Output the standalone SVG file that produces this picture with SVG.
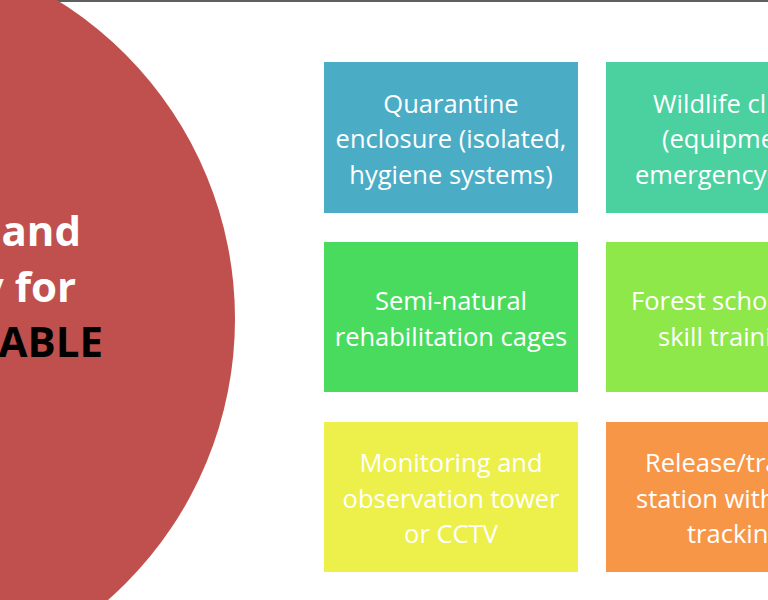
<svg xmlns="http://www.w3.org/2000/svg" width="768" height="600" viewBox="0 0 768 600">
<style>
.box{stroke:none}
.bt{font-family:"Open Sans","Liberation Sans",sans-serif;font-size:25.5px;fill:#ffffff;text-anchor:middle}
.bl{font-family:"Open Sans","Liberation Sans",sans-serif;font-size:25.5px;fill:#ffffff;text-anchor:start}
.ct{font-family:"Open Sans","Liberation Sans",sans-serif;font-size:42px;font-weight:bold;text-anchor:end}
</style>
<rect x="0" y="0" width="768" height="600" fill="#ffffff"/>
<line x1="0" y1="1" x2="768" y2="1" stroke="#2a2a2a" stroke-width="1.5"/>
<g id="center">
<circle cx="-139.5" cy="319" r="374.5" fill="#C0504D"/>
<text class="ct" x="81" y="246" fill="#ffffff">and</text>
<text class="ct" x="76" y="302" fill="#ffffff">y for</text>
<text class="ct" x="103" y="357" fill="#000000">ABLE</text>
</g>
<g id="connectors"></g>
<g id="n1">
<rect class="box" x="324" y="62" width="254" height="151" fill="#4BACC6"/>
<text class="bt" x="451" y="112.5">Quarantine</text>
<text class="bt" x="451" y="148">enclosure (isolated,</text>
<text class="bt" x="451" y="183.5">hygiene systems)</text>
</g>
<g id="n2">
<rect class="box" x="606" y="62" width="254" height="151" fill="#4BD0A0"/>
<text class="bl" x="653" y="112.5">Wildlife cl</text>
<text class="bl" x="662" y="148">(equipme</text>
<text class="bl" x="635" y="183.5">emergency</text>
</g>
<g id="n3">
<rect class="box" x="324" y="242" width="254" height="150" fill="#49DB5E"/>
<text class="bt" x="451" y="310">Semi-natural</text>
<text class="bt" x="451" y="345.5">rehabilitation cages</text>
</g>
<g id="n4">
<rect class="box" x="606" y="242" width="254" height="150" fill="#8EE84A"/>
<text class="bl" x="631" y="310">Forest schoo</text>
<text class="bl" x="658" y="345.5">skill traini</text>
</g>
<g id="n5">
<rect class="box" x="324" y="422" width="254" height="150" fill="#EDEF4A"/>
<text class="bt" x="451" y="472">Monitoring and</text>
<text class="bt" x="451" y="507.5">observation tower</text>
<text class="bt" x="451" y="543">or CCTV</text>
</g>
<g id="n6">
<rect class="box" x="606" y="422" width="254" height="150" fill="#F79646"/>
<text class="bl" x="645" y="472">Release/tra</text>
<text class="bl" x="636" y="507.5">station with</text>
<text class="bl" x="687" y="543">trackin</text>
</g>
</svg>
